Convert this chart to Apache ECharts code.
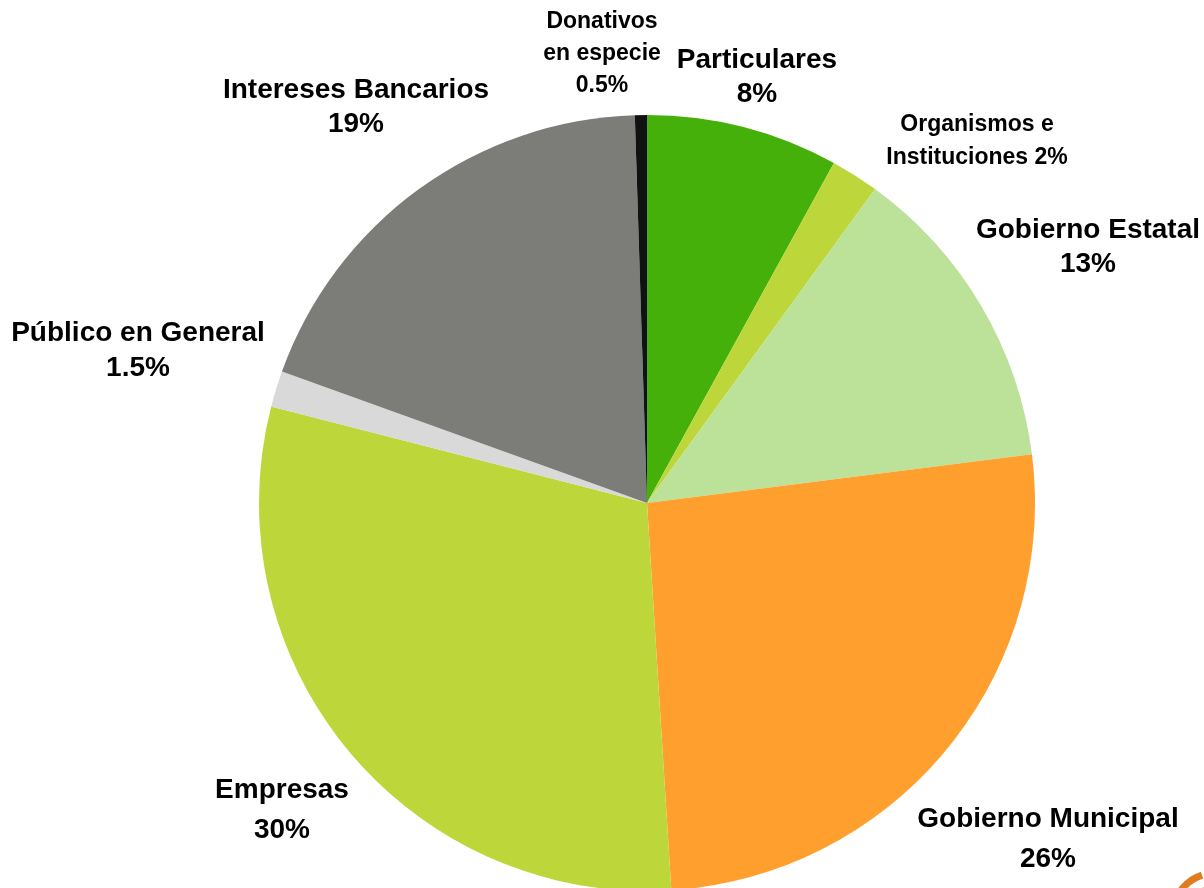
<!DOCTYPE html>
<html>
<head>
<meta charset="utf-8">
<script src="https://cdn.jsdelivr.net/npm/echarts@6/dist/echarts.min.js"></script>
<style>
  html, body { margin: 0; padding: 0; background: #fff; }
  #chart { width: 1204px; height: 888px; }
</style>
</head>
<body>
<div id="chart"></div>
<script>
// categorias en orden horario desde las 12
const names = [
  'Particulares', 'Organismos e\nInstituciones', 'Gobierno Estatal', 'Gobierno Municipal',
  'Empresas', 'Público en General', 'Intereses Bancarios', 'Donativos\nen especie'
]
const values = [8, 2, 13, 26, 30, 1.5, 19, 0.5]
const joiners = ['\n', ' ', '\n', '\n', '\n', '\n', '\n', '\n']

const colors = ['#45b00a', '#bdd73a', '#bce29a', '#ff9f2d', '#bdd73a', '#d9d9d9', '#7c7d79', '#111111']

// posicion de cada etiqueta (centro del bloque) y estilo
const labelPos = [
  [757, 77], [977, 141], [1088, 247], [1048, 839],
  [282, 810], [138, 351], [356, 107], [602, 54]
]
const labelSize = [28, 23, 28, 28, 28, 28, 28, 23]
const labelLine = [34, 33, 34, 40, 40, 35, 34, 32]

const chart = echarts.init(document.getElementById('chart'))

chart.setOption({
  animation: false,
  series: [{
    type: 'pie',
    center: [647, 503],
    radius: 388,
    startAngle: 90,
    clockwise: true,
    avoidLabelOverlap: false,
    emphasis: { disabled: true },
    itemStyle: { borderWidth: 0 },
    labelLine: { show: false },
    label: {
      show: true,
      position: 'outside',
      color: '#000',
      fontFamily: 'Liberation Sans, Arial, sans-serif',
      fontWeight: 'bold',
      align: 'center',
      formatter: p => p.name + joiners[p.dataIndex] + p.value + '%'
    },
    labelLayout: p => ({
      x: labelPos[p.dataIndex][0],
      y: labelPos[p.dataIndex][1],
      align: 'center',
      verticalAlign: 'middle'
    }),
    data: names.map((n, i) => ({
      name: n,
      value: values[i],
      itemStyle: { color: colors[i] },
      label: { fontSize: labelSize[i], lineHeight: labelLine[i] }
    }))
  }],
  graphic: [
    {
      type: 'arc',
      shape: { cx: 1215, cy: 915, r: 42, startAngle: Math.PI * 1.05, endAngle: Math.PI * 1.4 },
      style: { stroke: '#e07b20', lineWidth: 7, fill: null }
    },
    {
      type: 'arc',
      shape: { cx: 1218, cy: 915, r: 28, startAngle: Math.PI * 1.05, endAngle: Math.PI * 1.45 },
      style: { stroke: '#e07b20', lineWidth: 6, fill: null }
    }
  ]
})
</script>
</body>
</html>
